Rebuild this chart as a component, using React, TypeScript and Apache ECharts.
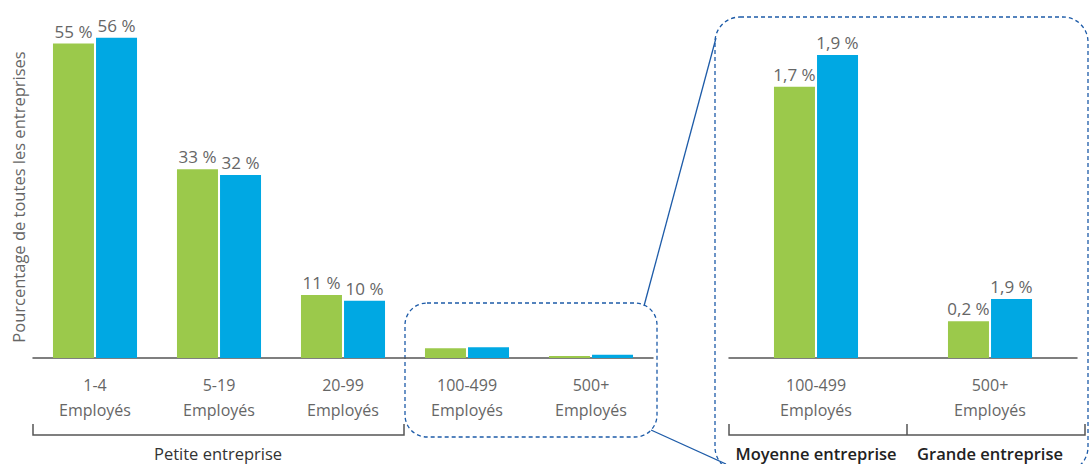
import React, { useEffect, useRef } from "react";
import * as echarts from "echarts";

const categoriesLeft = ["1-4\nEmployés", "5-19\nEmployés", "20-99\nEmployés", "100-499\nEmployés", "500+\nEmployés"];
const greenLeft = [55, 33, 11, 1.7, 0.35];
const blueLeft = [56, 32, 10, 1.9, 0.55];
const greenLeftLabels = ["55 %", "33 %", "11 %", "", ""];
const blueLeftLabels = ["56 %", "32 %", "10 %", "", ""];

const categoriesRight = ["100-499\nEmployés", "500+\nEmployés"];
const greenRight = [1.7, 0.23];
const blueRight = [1.9, 0.37];
const greenRightLabels = ["1,7 %", "0,2 %"];
const blueRightLabels = ["1,9 %", "1,9 %"];

const groupLabels = ["Petite entreprise", "Moyenne entreprise", "Grande entreprise"];
const yAxisName = "Pourcentage de toutes les entreprises";

const GREEN = "#9bc94b";
const BLUE = "#00a8e3";
const DARKBLUE = "#1d5ba8";
const FONT = "'Open Sans', 'Noto Sans', sans-serif";

export default function App() {
  const ref = useRef<HTMLDivElement>(null);
  useEffect(() => {
    if (!ref.current) return;
    const chart = echarts.init(ref.current, null, { renderer: "svg" });
    const xAxisCommon = {
      type: "category" as const,
      axisLine: { show: true, lineStyle: { color: "#555", width: 1.5 } },
      axisTick: { show: false },
      axisLabel: { color: "#666", fontSize: 16, lineHeight: 25, margin: 14, fontFamily: FONT, interval: 0 },
    };
    const labelCommon = (labels: string[]) => ({
      show: true,
      position: "top" as const,
      distance: 4,
      color: "#666",
      fontSize: 17,
      fontFamily: FONT,
      formatter: (p: any) => labels[p.dataIndex],
    });
    const barCommon = { type: "bar" as const, barWidth: 41, barGap: "5%" };
    chart.setOption({
      animation: false,
      textStyle: { fontFamily: FONT },
      grid: [
        { left: 33, width: 620, top: 15, height: 343 },
        { left: 729, width: 348, top: 15, height: 343 },
      ],
      xAxis: [
        { ...xAxisCommon, gridIndex: 0, data: categoriesLeft },
        { ...xAxisCommon, gridIndex: 1, data: categoriesRight },
      ],
      yAxis: [
        { type: "value", gridIndex: 0, min: 0, max: 60, show: false },
        { type: "value", gridIndex: 1, min: 0, max: 2.15, show: false },
      ],
      series: [
        { ...barCommon, xAxisIndex: 0, yAxisIndex: 0, data: greenLeft, itemStyle: { color: GREEN }, label: labelCommon(greenLeftLabels) },
        { ...barCommon, xAxisIndex: 0, yAxisIndex: 0, data: blueLeft, itemStyle: { color: BLUE }, label: labelCommon(blueLeftLabels) },
        { ...barCommon, xAxisIndex: 1, yAxisIndex: 1, data: greenRight, itemStyle: { color: GREEN }, label: labelCommon(greenRightLabels) },
        { ...barCommon, xAxisIndex: 1, yAxisIndex: 1, data: blueRight, itemStyle: { color: BLUE }, label: labelCommon(blueRightLabels) },
      ],
      graphic: [
        {
          type: "text", x: 18, y: 197, rotation: Math.PI / 2,
          style: { text: yAxisName, align: "center", verticalAlign: "middle", fontSize: 16.5, fill: "#666", fontFamily: FONT },
        },
        {
          type: "polyline",
          shape: { points: [[33, 424], [33, 435], [404, 435], [404, 424]] },
          style: { stroke: "#555", lineWidth: 1.5, fill: "none" },
        },
        {
          type: "polyline",
          shape: { points: [[729, 424], [729, 435], [1085, 435], [1085, 424]] },
          style: { stroke: "#555", lineWidth: 1.5, fill: "none" },
        },
        {
          type: "line",
          shape: { x1: 907, y1: 424, x2: 907, y2: 435 },
          style: { stroke: "#555", lineWidth: 1.5 },
        },
        {
          type: "text", x: 218, y: 453,
          style: { text: groupLabels[0], align: "center", verticalAlign: "middle", fontSize: 16.5, fill: "#333", fontFamily: FONT },
        },
        {
          type: "text", x: 816, y: 453,
          style: { text: groupLabels[1], align: "center", verticalAlign: "middle", fontSize: 16.5, fontWeight: 600, fill: "#222", fontFamily: FONT },
        },
        {
          type: "text", x: 990, y: 453,
          style: { text: groupLabels[2], align: "center", verticalAlign: "middle", fontSize: 16.5, fontWeight: 600, fill: "#222", fontFamily: FONT },
        },
        {
          type: "rect",
          shape: { x: 405, y: 303, width: 252, height: 134, r: 22 },
          style: { fill: "none", stroke: DARKBLUE, lineWidth: 1.3, lineDash: [4, 3] },
        },
        {
          type: "rect",
          shape: { x: 715, y: 17, width: 373, height: 455, r: 25 },
          style: { fill: "none", stroke: DARKBLUE, lineWidth: 1.3, lineDash: [4, 3] },
        },
        {
          type: "line",
          shape: { x1: 644, y1: 306, x2: 716, y2: 38 },
          style: { stroke: DARKBLUE, lineWidth: 1.3 },
        },
        {
          type: "line",
          shape: { x1: 651, y1: 430, x2: 726, y2: 464 },
          style: { stroke: DARKBLUE, lineWidth: 1.3 },
        },
      ],
    });
    return () => chart.dispose();
  }, []);
  return (
    <div
      ref={ref}
      style={{ position: "fixed", left: 0, top: 0, width: 1089, height: 464, background: "#fff" }}
    />
  );
}
